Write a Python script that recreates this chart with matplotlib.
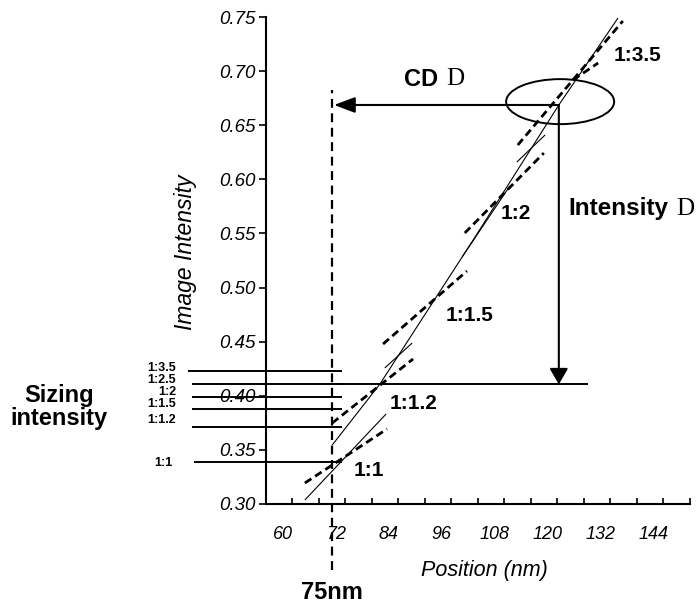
import matplotlib
matplotlib.use("Agg")
import matplotlib.pyplot as plt
from matplotlib.patches import Ellipse
import numpy as np

plt.rcParams['font.family'] = ['Liberation Sans', 'DejaVu Sans']

# ---- axis setup -------------------------------------------------------
x_limits = (60, 156)
y_limits = (0.30, 0.75)
x_minor_ticks = np.arange(60, 157, 6)
x_tick_values = [60, 72, 84, 96, 108, 120, 132, 144]
x_tick_labels = [str(v) for v in x_tick_values]
y_tick_values = [0.30, 0.35, 0.40, 0.45, 0.50, 0.55, 0.60, 0.65, 0.70, 0.75]
y_tick_labels = ["%.2f" % v for v in y_tick_values]

# ---- intensity profiles (thin solid) -----------------------------------
profile_main_x = [75.0, 85.8, 106.9, 126.3, 139.7]
profile_main_y = [0.3545, 0.4109, 0.5439, 0.6687, 0.7491]
profile_11_x = [68.8, 87.2]
profile_11_y = [0.3037, 0.3832]
profile_mid_x = [86.9, 93.1]
profile_mid_y = [0.4257, 0.4488]
profile_upper_x = [104.4, 115.2]
profile_upper_y = [0.5282, 0.5938]
profile_top_x = [116.8, 123.2]
profile_top_y = [0.6160, 0.6410]

# ---- slope segments (thick dashed) -------------------------------------
slope_11_x = [68.8, 87.4]
slope_11_y = [0.3194, 0.3693]
slope_112_x = [75.0, 93.3]
slope_112_y = [0.3748, 0.4340]
slope_115_x = [86.5, 105.5]
slope_115_y = [0.4478, 0.5153]
slope_12_x = [105.0, 122.9]
slope_12_y = [0.5504, 0.6243]
slope_long_x = [117.0, 140.8]
slope_long_y = [0.6317, 0.7463]
slope_135_x = [129.5, 135.2]
slope_135_y = [0.6918, 0.7075]

# ---- curve annotations --------------------------------------------------
curve_labels = ['1:1', '1:1.2', '1:1.5', '1:2', '1:3.5']
curve_label_x = [83.4, 93.5, 106.0, 116.6, 144.1]
curve_label_y = [0.3305, 0.3930, 0.4746, 0.5686, 0.7146]

# ---- sizing intensity levels -------------------------------------------
sizing_labels = ['1:3.5', '1:2.5', '1:2', '1:1.5', '1:1.2', '1:1']
sizing_levels = [0.4229, 0.4106, 0.3991, 0.3882, 0.3716, 0.3388]
sizing_label_y = [0.4254, 0.4143, 0.4033, 0.3922, 0.3776, 0.3376]

# ---- CD / intensity construction ---------------------------------------
target_cd = 75
cross_x = 126.3
cross_y = 0.6687
sizing_25 = 0.4106

fig = plt.figure(figsize=(6.96, 6.06), dpi=100)
ax = fig.add_axes([266 / 696, 102 / 606, 424 / 696, 487 / 606])
ax.set_xlim(*x_limits)
ax.set_ylim(*y_limits)

for s in ['top', 'right']:
    ax.spines[s].set_visible(False)
for s in ['left', 'bottom']:
    ax.spines[s].set_linewidth(1.5)

# x axis: inward minor ticks every 6 nm, labels sit between them
label_shift = 3.8
ax.set_xticks([v + label_shift for v in x_tick_values], x_tick_labels)
ax.set_xticks(x_minor_ticks, minor=True)
ax.tick_params(axis='x', which='major', length=0, pad=16, labelsize=13)
ax.tick_params(axis='x', which='minor', direction='in', length=4.5, width=1.2)
for t in ax.get_xticklabels():
    t.set_fontstyle('italic')

ax.set_yticks(y_tick_values, y_tick_labels)
ax.tick_params(axis='y', which='major', direction='out', length=5, width=1.2,
               pad=2.5, labelsize=13.5)
for t in ax.get_yticklabels():
    t.set_fontstyle('italic')

ax.set_xlabel('Position (nm)', fontsize=15.5, fontstyle='italic')
ax.xaxis.set_label_coords(0.515, -0.116)
ax.set_ylabel('Image Intensity', fontsize=16.5, fontstyle='italic')
ax.yaxis.label.set_va('center')
ax.yaxis.set_label_coords(-0.19, 0.517)

thin = dict(color='black', lw=0.8, solid_capstyle='butt')
for xs, ys in [(profile_main_x, profile_main_y), (profile_11_x, profile_11_y),
               (profile_mid_x, profile_mid_y), (profile_upper_x, profile_upper_y),
               (profile_top_x, profile_top_y)]:
    ax.plot(xs, ys, **thin)

dashed = dict(color='black', lw=2.0, linestyle=(0, (2.8, 1.6)), dash_capstyle='butt')
for xs, ys in [(slope_11_x, slope_11_y), (slope_112_x, slope_112_y),
               (slope_115_x, slope_115_y), (slope_12_x, slope_12_y),
               (slope_long_x, slope_long_y), (slope_135_x, slope_135_y)]:
    ax.plot(xs, ys, **dashed)

for lab, lx, ly in zip(curve_labels, curve_label_x, curve_label_y):
    ax.text(lx, ly, lab, fontsize=15, fontweight='bold', ha='center', va='center')

# target CD marker
ax.plot([target_cd, target_cd], [0.239, 0.6826], color='black', lw=1.6,
        linestyle=(0, (4, 2.5)), clip_on=False)
ax.text(target_cd, 0.2178, '75nm', fontsize=17, fontweight='bold',
        ha='center', va='center')

# sizing intensity levels to the left of the axis
for lab, lev, ly in zip(sizing_labels, sizing_levels, sizing_label_y):
    x0 = 42.6 if lab == '1:3.5' else (43.9 if lab == '1:1' else 43.5)
    ax.plot([x0, 77.0], [lev, lev], color='black', lw=1.4, clip_on=False)
    xr = 38.9 if lab == '1:1' else 39.6
    ax.text(xr, ly, lab, fontsize=9, fontweight='bold', ha='right', va='center')
ax.plot([74.5, 132.7], [sizing_25, sizing_25], color='black', lw=1.4)
ax.text(13.2, 0.3896, 'Sizing\nintensity', fontsize=17, fontweight='bold',
        ha='center', va='center', linespacing=1.0)

# CD and intensity arrows from the crossing point
ax.annotate('', xy=(75.4, cross_y), xytext=(cross_x, cross_y),
            arrowprops=dict(arrowstyle='-|>,head_length=0.8,head_width=0.3',
                            lw=1.5, color='black', mutation_scale=16,
                            shrinkA=0, shrinkB=0))
ax.annotate('', xy=(cross_x, sizing_25), xytext=(cross_x, cross_y),
            arrowprops=dict(arrowstyle='-|>,head_length=0.6,head_width=0.35',
                            lw=1.5, color='black', mutation_scale=16,
                            shrinkA=0, shrinkB=0))
ax.add_patch(Ellipse((126.6, 0.6718), 24.45, 0.0416, fill=False,
                     lw=1.4, color='black'))

ax.text(95.2, 0.6924, 'CD', fontsize=17, fontweight='bold', ha='center', va='center')
ax.text(102.8, 0.6924, 'D', fontsize=18, family='Liberation Serif',
        ha='center', va='center')
ax.text(139.8, 0.5726, 'Intensity', fontsize=17.5, fontweight='bold',
        ha='center', va='center')
ax.text(154.9, 0.5726, 'D', fontsize=18, family='Liberation Serif',
        ha='center', va='center')

fig.savefig('out.png', dpi=100)
